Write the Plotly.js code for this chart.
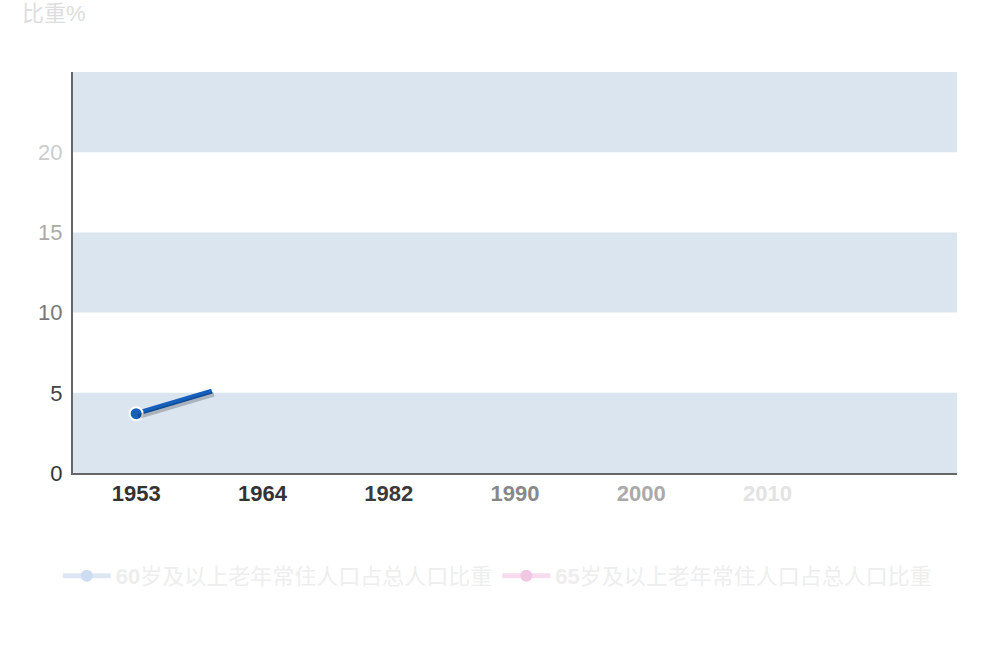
<!DOCTYPE html>
<html><head><meta charset="utf-8">
<script src="https://cdn.plot.ly/plotly-3.0.1.min.js"></script>
<style>html,body{margin:0;padding:0;background:#fff}#c{width:1000px;height:660px}</style>
</head><body><div id="c"></div>
<script>
// category labels (7 slots; the last one not yet shown)
const years = ['1953','1964','1982','1990','2000','2010','2020'];
const yearColors = ['#333','#333','#3a3a3a','#888','#aaa','#e3e3e3','#fff'];
const yTicks = [0,5,10,15,20];
const yTickColors = ['#333','#444','#777','#aaa','#ccc'];
// visible (partially drawn) segment of the 60+ series: category index and value
const seg60X = [0, 0.6];
const seg60Y = [3.7, 5.1];
const legendNames = ['<b>60</b>岁及以上老年常住人口占总人口比重','<b>65</b>岁及以上老年常住人口占总人口比重'];
const bands = [[0,5],[10,15],[20,25]];

const FONT = 'Liberation Sans, Arial, Noto Sans CJK SC, sans-serif';
const traces = [
  {x: seg60X, y: seg60Y, xaxis:'x2', yaxis:'y2', mode:'lines', line:{color:'rgba(0,0,0,0.22)', width:5}, showlegend:false, hoverinfo:'skip'},
  {x: seg60X, y: seg60Y, mode:'lines', line:{color:'#1560bd', width:5}, showlegend:false},
  {x: [seg60X[0]], y: [seg60Y[0]], mode:'markers', marker:{color:'#1560bd', size:13, line:{color:'#fff', width:2}}, showlegend:false},
  {x:[null], y:[null], mode:'lines+markers', name: legendNames[0], line:{color:'#dde7f4', width:5}, marker:{color:'#cddcf0', size:12}},
  {x:[null], y:[null], mode:'lines+markers', name: legendNames[1], line:{color:'#f6dcee', width:5}, marker:{color:'#f0c8e4', size:12}}
];
const shapes = bands.map(b => ({type:'rect', xref:'paper', yref:'y', x0:0, x1:1, y0:b[0], y1:b[1], fillcolor:'#dae5f0', line:{width:0}, layer:'below'}));
const layout = {
  width:1000, height:660, margin:{l:73, r:43, t:72, b:187},
  paper_bgcolor:'#fff', plot_bgcolor:'#fff',
  font:{family:FONT, size:22, color:'#333'},
  xaxis:{range:[-0.5,6.5], tickvals:[0,1,2,3,4,5,6], ticktext: years.map((y,i)=>`<span style="color:${yearColors[i]}"><b>${y}</b></span>`),
    showgrid:false, zeroline:false, showline:true, linecolor:'#666', linewidth:2, ticks:'', ticklen:0, fixedrange:true, tickfont:{size:22}},
  yaxis:{range:[0,25], tickvals:yTicks, ticktext: yTicks.map((v,i)=>`<span style="color:${yTickColors[i]}">${v}</span>`),
    showgrid:false, zeroline:false, showline:true, linecolor:'#666', linewidth:2, ticks:'', ticklabelstandoff:4, tickfont:{size:22}},
  xaxis2:{overlaying:'x', range:[-0.5-2/126, 6.5-2/126], visible:false},
  yaxis2:{overlaying:'y', range:[3/16, 25+3/16], visible:false},
  shapes: shapes,
  showlegend:true,
  legend:{orientation:'h', x:0.48, xanchor:'center', y:-0.257, yanchor:'middle', font:{size:22, color:'#eee'}, itemwidth:48, traceorder:'normal'},
  annotations:[{text:'比重%', xref:'paper', yref:'paper', x:-0.06, y:(72+1)/401+1, xanchor:'left', yanchor:'top', showarrow:false, font:{size:22, color:'#ddd'}}]
};
Plotly.newPlot('c', traces, layout, {displayModeBar:false, staticPlot:true});
</script></body></html>
